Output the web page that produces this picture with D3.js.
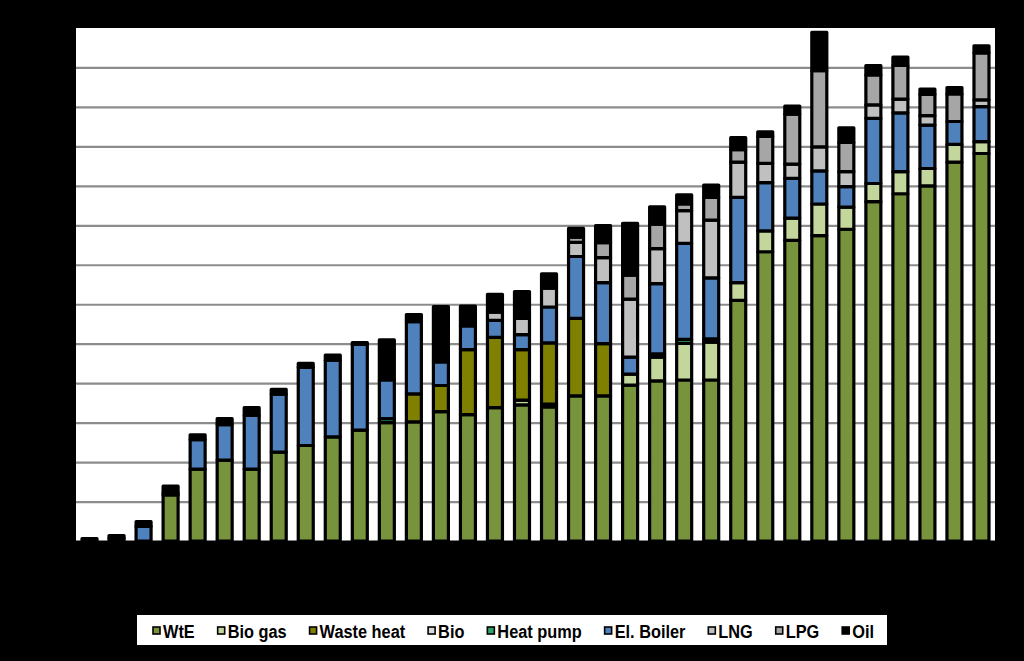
<!DOCTYPE html>
<html><head><meta charset="utf-8">
<script src="https://cdn.jsdelivr.net/npm/d3@7"></script>
<style>html,body{margin:0;padding:0;background:#000;} svg{display:block}</style>
</head><body>
<svg id="chart" width="1024" height="661"></svg>
<script>
const categories = ["1","2","3","4","5","6","7","8","9","10","11","12","13","14","15","16","17","18","19","20","21","22","23","24","25","26","27","28","29","30","31","32","33","34"];
const seriesNames = ["WtE","Bio gas","Waste heat","Bio","Heat pump","El. Boiler","LNG","LPG","Oil"];
const seriesColors = ["#77933C","#C3D69B","#808000","#D9D9D9","#2FA56C","#4F81BD","#C0C0C0","#A6A6A6","#000000"];

const wte       = [0,0,0,1.17,1.82,2.05,1.82,2.25,2.42,2.64,2.81,3.0,3.02,3.28,3.2,3.38,3.45,3.4,3.68,3.68,3.95,4.06,4.08,4.08,6.1,7.33,7.62,7.74,7.9,8.6,8.8,9.0,9.6,9.82];
const bioGas    = [0,0,0,0.05,0,0,0,0,0,0,0,0,0,0,0,0,0.12,0.07,0,0,0.28,0.6,0.93,0.96,0.45,0.53,0.56,0.8,0.56,0.46,0.56,0.44,0.45,0.3];
const wasteHeat = [0,0,0,0,0,0,0,0,0,0,0,0,0.71,0.66,1.65,1.78,1.28,1.55,1.96,1.32,0,0,0,0,0,0,0,0,0,0,0,0,0,0];
const bio       = [0,0,0,0,0,0,0,0,0,0,0,0,0,0,0,0,0,0,0,0,0,0,0,0,0,0,0,0,0,0,0,0,0,0];
const heatPump  = [0,0,0,0,0,0,0,0,0,0,0,0.1,0,0,0,0,0,0,0,0,0,0.08,0.1,0.08,0,0,0,0,0,0,0,0,0,0];
const elBoiler  = [0,0.07,0.37,0,0.75,0.9,1.36,1.47,1.98,1.94,2.17,0.98,1.83,0.6,0.6,0.43,0.38,0.91,1.57,1.55,0.43,1.78,2.43,1.55,2.16,1.22,1.01,0.84,0.52,1.65,1.49,1.1,0.58,0.89];
const lng       = [0,0,0,0,0,0,0,0,0,0,0,0,0,0,0,0.21,0.41,0.48,0.36,0.63,1.47,0.89,0.83,1.46,0.89,0.49,0.36,0.61,0.38,0.34,0.35,0.24,0,0.17];
const lpg       = [0,0,0,0,0,0,0,0,0,0,0,0,0,0,0,0,0,0,0.13,0.38,0.61,0.62,0.17,0.58,0.32,0.68,1.27,1.93,0.74,0.76,0.85,0.54,0.7,1.19];
const oil       = [0.06,0.07,0.12,0.17,0.12,0.15,0.2,0.12,0.1,0.13,0.05,1.02,0.18,1.4,0.5,0.45,0.68,0.36,0.22,0.43,1.31,0.44,0.23,0.31,0.3,0.12,0.2,0.97,0.37,0.24,0.21,0.13,0.16,0.18];
const yTicks = [0,1,2,3,4,5,6,7,8,9,10,11,12,13];

const seriesValues = [wte,bioGas,wasteHeat,bio,heatPump,elBoiler,lng,lpg,oil];
const table = categories.map((c,i)=>{
  const row = {cat:c};
  seriesNames.forEach((s,k)=>{ row[s] = seriesValues[k][i]; });
  return row;
});

const svg = d3.select("#chart");
svg.append("rect").attr("width",1024).attr("height",661).attr("fill","#000");

const X0 = 76, X1 = 995, Y0 = 541, Y1 = 28;
const x = d3.scaleBand().domain(categories).range([X0,X1]).paddingInner(0.445).paddingOuter(0.2225);
const y = d3.scaleLinear().domain([0,13]).range([Y0,Y1]);
const color = d3.scaleOrdinal().domain(seriesNames).range(seriesColors);

svg.append("rect").attr("x",X0).attr("y",Y1).attr("width",X1-X0).attr("height",Y0-Y1).attr("fill","#fff");

const grid = svg.append("g").attr("transform",`translate(${X0},0)`)
  .call(d3.axisLeft(y).tickValues(yTicks.slice(1,-1)).tickSize(-(X1-X0)).tickFormat(""));
grid.select(".domain").remove();
grid.selectAll(".tick line").attr("stroke","#8c8c8c").attr("stroke-width",2.2);

const stacked = d3.stack().keys(seriesNames)(table);

const layers = svg.append("g").selectAll("g").data(stacked).join("g")
  .attr("fill", d=>color(d.key));
layers.selectAll("rect").data(d=>d.filter(p=>p[1]-p[0]>0)).join("rect")
  .attr("x", d=>x(d.data.cat))
  .attr("width", x.bandwidth())
  .attr("y", d=>y(d[1]))
  .attr("height", d=>y(d[0])-y(d[1]))
  .attr("stroke","#000").attr("stroke-width",3.2).attr("stroke-linejoin","round");

svg.append("line").attr("x1",X0).attr("x2",X1).attr("y1",Y0+1).attr("y2",Y0+1)
  .attr("stroke","#000").attr("stroke-width",3);

// legend
const LX0 = 137, LX1 = 887, LY0 = 615, LY1 = 645;
svg.append("rect").attr("x",LX0).attr("y",LY0).attr("width",LX1-LX0).attr("height",LY1-LY0).attr("fill","#fff");
const lg = svg.append("g");
const items = lg.selectAll("g").data(seriesNames).join("g");
items.append("rect").attr("width",7).attr("height",7).attr("y",LY0+12)
  .attr("fill",d=>color(d)).attr("stroke","#000").attr("stroke-width",1.6);
const sx = 0.86;
const texts = items.append("text").text(d=>d)
  .attr("transform",`translate(10,${LY0+23}) scale(${sx},1)`)
  .attr("font-family","'Liberation Sans Narrow','Arial Narrow','Liberation Sans',Arial,sans-serif")
  .attr("font-weight","bold").attr("font-size",19).attr("fill","#000");
const widths = texts.nodes().map(n=>n.getComputedTextLength()*sx);
const startX = 153, endX = 874;
const total = widths.reduce((a,w)=>a+w+10,0);
const gap = (endX-startX-total)/(seriesNames.length-1);
let cx = startX;
items.each(function(d,i){
  d3.select(this).attr("transform",`translate(${cx},0)`);
  cx += widths[i]+10+gap;
});
</script>
</body></html>
